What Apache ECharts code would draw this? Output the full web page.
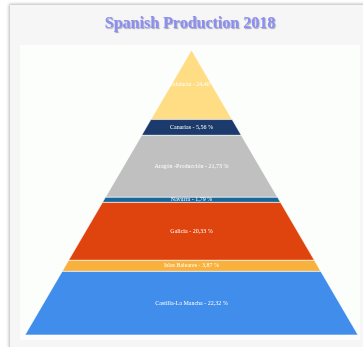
<!DOCTYPE html>
<html>
<head>
<meta charset="utf-8">
<script src="https://cdn.jsdelivr.net/npm/echarts@6/dist/echarts.min.js"></script>
<style>
  html, body { margin: 0; padding: 0; background: #ffffff; overflow: hidden; }
  #card { position: absolute; left: 10px; top: 5px; width: 370px; height: 360px;
          background: #f6f6f6; box-shadow: -1px -1px 3px rgba(0,0,0,0.28); }
  #plotbg { position: absolute; left: 20px; top: 45px; width: 340px; height: 295px; background: #fbfefb; }
  #chart { position: absolute; left: 0; top: 0; width: 363px; height: 347px; }
</style>
</head>
<body>
<div id="card"></div>
<div id="plotbg"></div>
<div id="chart"></div>
<script>
// Regions, listed from the apex of the pyramid down to its base
const regions = ['Andalucía', 'Canarias', 'Aragón -Producción', 'Navarra', 'Galicia', 'Islas Baleares', 'Castilla-La Mancha'];
// Share of the production, in percent
const shares = [24.40, 5.56, 21.73, 1.79, 20.33, 3.87, 22.32];
const palette = ['#fedd84', '#1d3a6c', '#c0c0c0', '#19679a', '#e0440e', '#f9b13d', '#418deb'];

// Cumulative band limits, so each band's height follows its share
const total = shares.reduce((a, b) => a + b, 0);
let acc = 0;
const bands = shares.map((v, i) => {
  const start = acc / total * 100;
  acc += v;
  const end = acc / total * 100;
  return [start, end, v, i];
});

const chart = echarts.init(document.getElementById('chart'), null, { renderer: 'canvas' });
chart.setOption({
  backgroundColor: 'transparent',
  animation: false,
  graphic: [{
    type: 'text', x: 190, y: 24,
    style: {
      text: 'Spanish Production 2018', textAlign: 'center', textVerticalAlign: 'middle',
      font: 'bold 16px "Liberation Serif", "Times New Roman", serif',
      fill: '#8b8ff0', textShadowColor: 'rgba(60,60,120,0.45)', textShadowBlur: 1,
      textShadowOffsetX: 1, textShadowOffsetY: 1
    }
  }],
  grid: { left: 25, right: 5, top: 50, bottom: 12 },
  xAxis: { type: 'value', min: -100, max: 100, show: false },
  yAxis: { type: 'value', min: 0, max: 100, inverse: true, show: false },
  series: [{
    type: 'custom',
    data: bands,
    encode: { x: 2, y: [0, 1] },
    renderItem: function (params, api) {
      const s = api.value(0), e = api.value(1), idx = api.value(3);
      const pts = [api.coord([-s, s]), api.coord([s, s]), api.coord([e, e]), api.coord([-e, e])];
      const label = regions[idx] + ' - ' + shares[idx].toFixed(2).replace('.', ',') + ' %';
      return {
        type: 'polygon',
        shape: { points: pts },
        style: { fill: palette[idx], stroke: 'rgba(255,255,255,0.75)', lineWidth: 0.8 },
        textContent: {
          style: { text: label, fill: '#ffffff', font: '6px "Liberation Serif", "Times New Roman", serif' }
        },
        textConfig: { position: 'inside' }
      };
    }
  }]
});
</script>
</body>
</html>
